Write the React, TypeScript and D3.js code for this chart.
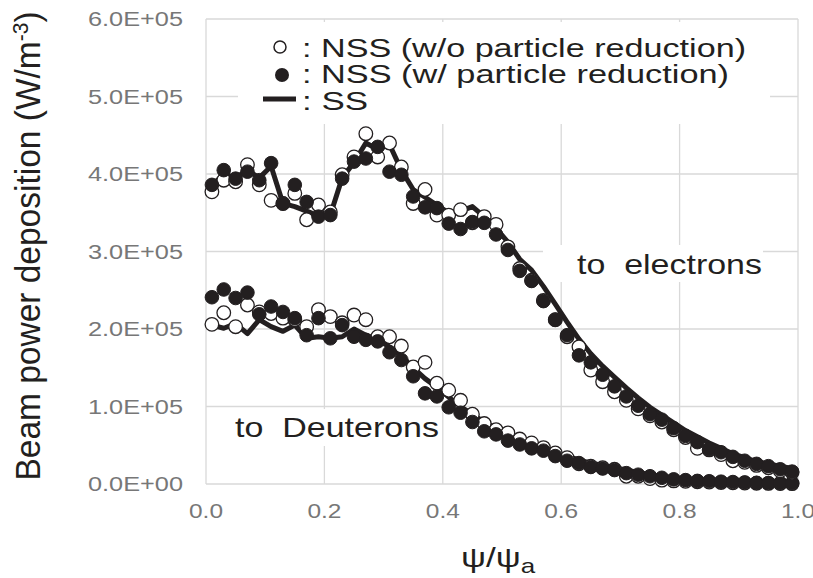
import React from "react";
import * as d3 from "d3";

const psi = [0.01,0.03,0.05,0.07,0.09,0.11,0.13,0.15,0.17,0.19,0.21,0.23,0.25,0.27,0.29,0.31,0.33,0.35,0.37,0.39,0.41,0.43,0.45,0.47,0.49,0.51,0.53,0.55,0.57,0.59,0.61,0.63,0.65,0.67,0.69,0.71,0.73,0.75,0.77,0.79,0.81,0.83,0.85,0.87,0.89,0.91,0.93,0.95,0.97,0.99];

// values in units of 1E+05 W/m^3
const elecOpen = [3.77,3.92,3.90,4.12,3.86,3.66,3.62,3.75,3.41,3.60,3.51,3.99,4.22,4.52,4.22,4.40,4.09,3.62,3.80,3.47,3.47,3.54,3.37,3.45,3.35,3.06,2.78,2.63,2.37,2.12,1.90,1.77,1.47,1.32,1.19,1.08,0.97,0.88,0.80,0.70,0.60,0.46,0.44,0.38,0.30,0.28,0.24,0.21,0.17,0.15];
const elecFilled = [3.86,4.05,3.94,4.03,3.92,4.14,3.62,3.86,3.64,3.45,3.47,3.94,4.16,4.20,4.35,4.03,3.99,3.71,3.57,3.56,3.36,3.29,3.38,3.37,3.22,3.02,2.75,2.62,2.36,2.12,1.92,1.66,1.57,1.41,1.26,1.13,1.01,0.90,0.83,0.72,0.62,0.54,0.45,0.41,0.35,0.30,0.26,0.23,0.19,0.16];
const elecSS = [3.85,4.0,3.95,4.05,3.95,4.1,3.62,3.58,3.52,3.46,3.47,3.95,4.15,4.4,4.32,4.38,4.05,3.8,3.7,3.6,3.5,3.52,3.58,3.45,3.3,3.12,2.9,2.76,2.55,2.32,2.09,1.87,1.68,1.52,1.38,1.24,1.11,0.99,0.89,0.79,0.69,0.61,0.53,0.46,0.39,0.34,0.29,0.26,0.23,0.20];

const deutOpen = [2.06,2.21,2.03,2.31,2.22,2.20,2.14,2.12,2.03,2.25,2.16,2.08,2.18,2.12,1.90,1.90,1.78,1.51,1.57,1.30,1.21,1.08,0.90,0.78,0.70,0.66,0.58,0.53,0.47,0.40,0.34,0.26,0.23,0.21,0.19,0.10,0.10,0.07,0.05,0.04,0.035,0.03,0.025,0.02,0.015,0.012,0.01,0.008,0.006,0.005];
const deutFilled = [2.41,2.51,2.40,2.47,2.19,2.29,2.22,2.14,1.92,2.14,1.88,2.05,1.90,1.86,1.84,1.70,1.60,1.39,1.17,1.13,0.99,0.92,0.80,0.68,0.64,0.56,0.51,0.46,0.43,0.36,0.30,0.27,0.22,0.20,0.18,0.14,0.12,0.10,0.08,0.06,0.05,0.04,0.035,0.03,0.025,0.02,0.015,0.012,0.01,0.01];
const deutSS = [2.05,2.01,2.07,1.94,2.12,2.03,1.97,2.05,1.88,1.90,1.88,1.90,2.00,1.92,1.86,1.77,1.65,1.50,1.36,1.25,1.12,1.00,0.90,0.80,0.72,0.64,0.57,0.51,0.46,0.41,0.36,0.31,0.27,0.24,0.21,0.18,0.15,0.12,0.10,0.08,0.06,0.05,0.04,0.03,0.025,0.02,0.015,0.01,0.01,0.005];

const yTicks = [0, 1, 2, 3, 4, 5, 6];
const yTickLabels = ["0.0E+00","1.0E+05","2.0E+05","3.0E+05","4.0E+05","5.0E+05","6.0E+05"];
const xTicks = [0, 0.2, 0.4, 0.6, 0.8, 1.0];
const xTickLabels = ["0.0","0.2","0.4","0.6","0.8","1.0"];

const legendItems = [": NSS (w/o particle reduction)", ": NSS (w/ particle reduction)", ": SS"];

const INK = "#231f20";
const GRID = "#d9d9d9";
const TICK = "#777777";
const FONT = "'Liberation Sans', Arial, sans-serif";

export default function App() {
  const x = d3.scaleLinear().domain([0, 1]).range([206, 798]);
  const y = d3.scaleLinear().domain([0, 6]).range([484, 19]);
  const line = d3.line<number>().x((_, i) => x(psi[i])).y((v) => y(v)).curve(d3.curveLinear);
  const R = 6.8;

  const openDots = (arr: number[], key: string) =>
    arr.map((v, i) => (
      <circle key={key + i} cx={x(psi[i])} cy={y(v)} r={R} fill="#fff" stroke={INK} strokeWidth={1.3} />
    ));
  const filledDots = (arr: number[], key: string) =>
    arr.map((v, i) => (
      <circle key={key + i} cx={x(psi[i])} cy={y(v)} r={R} fill={INK} stroke={INK} strokeWidth={1} />
    ));

  return (
    <svg width={813} height={578} style={{ position: "absolute", left: 0, top: 0, background: "#fff" }} fontFamily={FONT}>
      <rect x={0} y={0} width={813} height={578} fill="#fff" />
      {/* gridlines */}
      {yTicks.map((t) => (
        <line key={"hy" + t} x1={x(0)} x2={x(1)} y1={y(t)} y2={y(t)} stroke={GRID} strokeWidth={1.3} />
      ))}
      {xTicks.map((t) => (
        <line key={"vx" + t} x1={x(t)} x2={x(t)} y1={y(6)} y2={y(0)} stroke={GRID} strokeWidth={1.3} />
      ))}
      {/* white boxes behind legend and labels */}
      <rect x={238} y={22} width={532} height={102} fill="#fff" />
      <rect x={543} y={245} width={220} height={37} fill="#fff" />
      <rect x={230} y={409} width={211} height={37} fill="#fff" />

      {/* tick labels */}
      {yTicks.map((t, i) => (
        <text key={"yl" + t} x={183} y={y(t) + 7} textAnchor="end" fontSize={20} fill={TICK} textLength={95} lengthAdjust="spacingAndGlyphs">
          {yTickLabels[i]}
        </text>
      ))}
      {xTicks.map((t, i) => (
        <text key={"xl" + t} x={x(t) - 17} y={518} fontSize={20} fill={TICK} textLength={34} lengthAdjust="spacingAndGlyphs">
          {xTickLabels[i]}
        </text>
      ))}

      {/* axis titles */}
      <text transform="translate(40,246) rotate(-90) scale(0.957,1)" textAnchor="middle" fontSize={35} fill={INK}>
        Beam power deposition (W/m<tspan dy={-12} fontSize={22}>-3</tspan><tspan dy={12}>)</tspan>
      </text>
      <text transform="translate(461,567) scale(1.3,1)" fontSize={27} fill={INK}>
        ψ/ψ<tspan dy={6} fontSize={20}>a</tspan>
      </text>

      {/* labels */}
      <text x={577} y={274} fontSize={28} fill={INK} textLength={185} lengthAdjust="spacingAndGlyphs" style={{ whiteSpace: "pre" }}>{"to  electrons"}</text>
      <text x={235} y={437} fontSize={28} fill={INK} textLength={204} lengthAdjust="spacingAndGlyphs" style={{ whiteSpace: "pre" }}>{"to  Deuterons"}</text>

      {/* SS lines */}
      <path d={line(elecSS) || ""} fill="none" stroke={INK} strokeWidth={5} strokeLinejoin="round" />
      <path d={line(deutSS) || ""} fill="none" stroke={INK} strokeWidth={5} strokeLinejoin="round" />

      {/* open then filled markers */}
      {openDots(deutOpen, "do")}
      {filledDots(deutFilled, "df")}
      {openDots(elecOpen, "eo")}
      {filledDots(elecFilled, "ef")}

      {/* legend */}
      <circle cx={280} cy={47} r={6} fill="#fff" stroke={INK} strokeWidth={1.5} />
      <circle cx={282} cy={75} r={7} fill={INK} />
      <line x1={263} x2={296} y1={99} y2={99} stroke={INK} strokeWidth={5} />
      <text x={302} y={57} fontSize={25} fill={INK} textLength={444} lengthAdjust="spacingAndGlyphs">{legendItems[0]}</text>
      <text x={302} y={83} fontSize={25} fill={INK} textLength={427} lengthAdjust="spacingAndGlyphs">{legendItems[1]}</text>
      <text x={302} y={110} fontSize={25} fill={INK} textLength={66} lengthAdjust="spacingAndGlyphs">{legendItems[2]}</text>
    </svg>
  );
}
